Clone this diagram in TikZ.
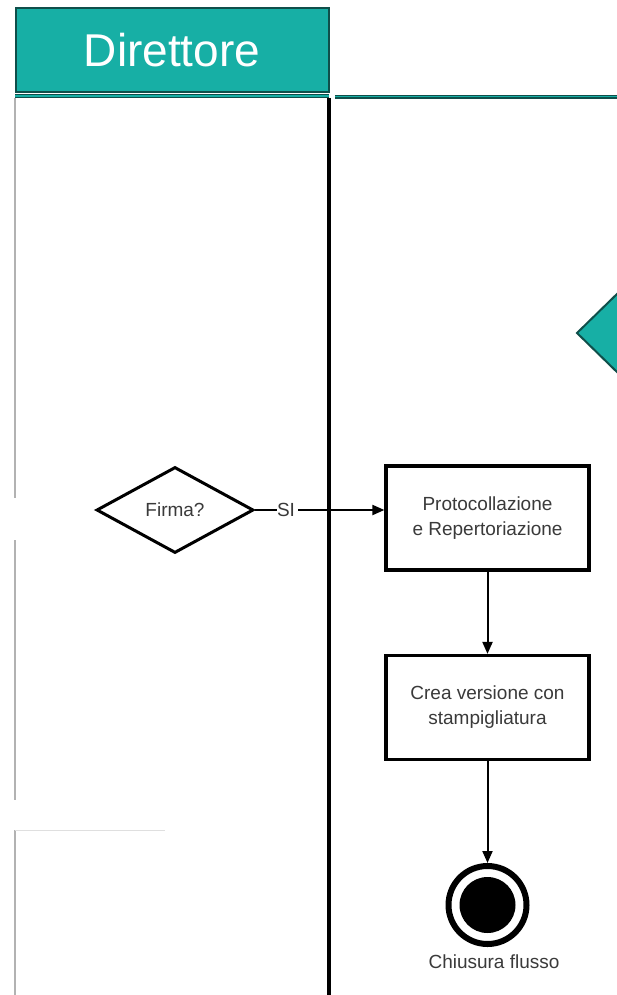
\documentclass[tikz,border=0pt]{standalone}
\usepackage{fontspec}
\setmainfont{Liberation Sans}
\usetikzlibrary{arrows.meta,shapes.geometric}
\definecolor{teal1}{HTML}{17AFA5}
\definecolor{tealdark}{HTML}{0F4F4A}
\definecolor{txtgray}{HTML}{3A3A3A}
\begin{document}
\begin{tikzpicture}[x=1pt,y=-1pt,
  lbltext/.style={font=\fontsize{19}{25}\selectfont,text=txtgray},
  procbox/.style={draw=black,line width=3.2pt,minimum width=203pt,minimum height=104pt,align=center,lbltext,inner sep=0pt},
  flow/.style={draw=black,line width=2pt,-{Triangle[length=12pt,width=10pt]}}]
\useasboundingbox (0,0) rectangle (617,995);
\fill[white] (0,0) rectangle (617,995);
% header
\node[draw=tealdark,line width=2pt,fill=teal1,minimum width=313pt,minimum height=84pt,inner sep=0pt,text=white,font=\fontsize{46}{52}\selectfont] (hdr) at (172,50) {Direttore};
% lane header lines
\draw[tealdark,line width=4.5pt] (15,96) -- (329,96);
\draw[teal1,line width=1.5pt] (15,96) -- (329,96);
\draw[tealdark,line width=3.5pt] (335,97) -- (617,97);
\draw[teal1,line width=1pt] (335,97) -- (617,97);
% left faint lane border
\draw[gray!60,line width=1.2pt] (15,98) -- (15,498);
\draw[gray!60,line width=1.2pt] (15,540) -- (15,800);
\draw[gray!60,line width=1.2pt] (15,830) -- (15,995);
\draw[gray!25,line width=1pt] (15,830) -- (165,830);
% lane separator
\draw[black,line width=3.4pt] (329,98) -- (329,995);
% partial teal diamond
\fill[teal1,draw=tealdark,line width=2pt] (619,292) -- (577,333) -- (619,374);
% decision
\node[diamond,draw=black,line width=3pt,minimum width=157pt,minimum height=86pt,aspect=1.8,inner sep=0pt,lbltext] (firma) at (175,510) {Firma?};
% boxes
\node[procbox] (proto) at (487.5,518) {Protocollazione\\e Repertoriazione};
\node[procbox] (crea) at (487.5,707.5) {Crea versione con\\stampigliatura};
% end event
\node[circle,draw=black,line width=6pt,minimum size=78pt,inner sep=0pt] (fine) at (487.5,905) {};
\fill[black] (fine.center) circle (28pt);
\node[lbltext,anchor=north] (lbl) at (494,951) {Chiusura flusso};
% connectors
\node[lbltext,inner sep=0pt] (si) at (286,510) {SI};
\draw[black,line width=2pt] (firma.east) -- (si.west);
\path (si.east) ++(3pt,0) coordinate (sie);
\draw[flow] (sie) -- (sie -| proto.west);
\draw[flow] (proto.south) -- (crea.north);
\draw[flow] (crea.south) -- (fine.north);
\end{tikzpicture}
\end{document}
